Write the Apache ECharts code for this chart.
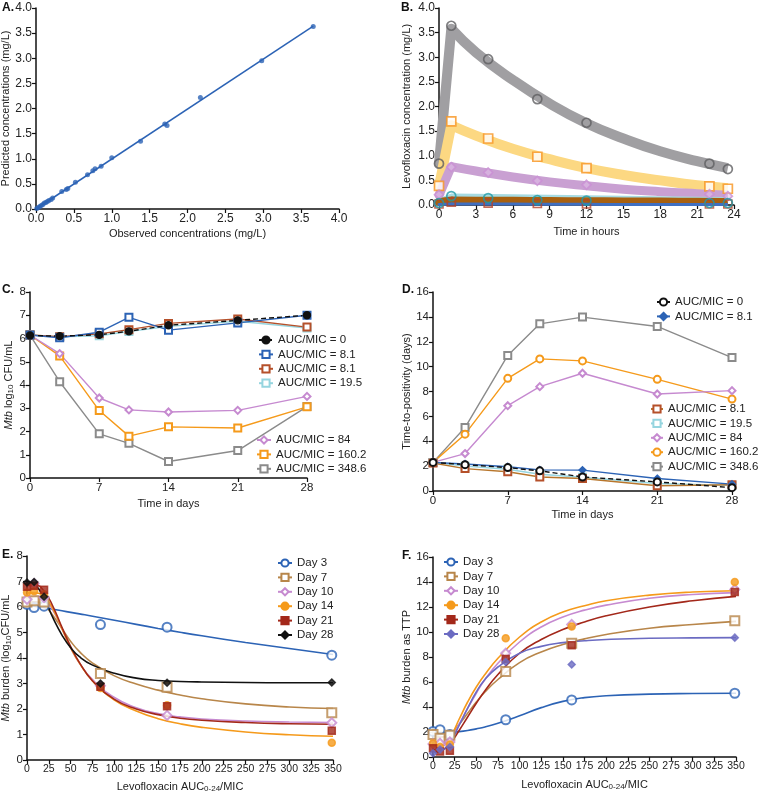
<!DOCTYPE html>
<html>
<head>
<meta charset="utf-8">
<script src="https://cdn.jsdelivr.net/npm/echarts@6/dist/echarts.min.js"></script>
<style>
  html, body { margin: 0; padding: 0; background: #fff; }
  #chart { width: 759px; height: 795px; }
</style>
</head>
<body>
<div id="chart"></div>
<script>
// ---- A: observed vs predicted
const obsA = [0.01, 0.03, 0.05, 0.07, 0.09, 0.11, 0.13, 0.15, 0.17, 0.2, 0.22, 0.34, 0.4, 0.42, 0.52, 0.68, 0.75, 0.78, 0.86, 1.0, 1.38, 1.7, 1.73, 2.17, 2.98, 3.66]
const predA = [0.01, 0.03, 0.05, 0.07, 0.09, 0.12, 0.13, 0.15, 0.17, 0.19, 0.22, 0.35, 0.39, 0.41, 0.53, 0.68, 0.76, 0.8, 0.85, 1.02, 1.35, 1.69, 1.66, 2.22, 2.95, 3.63]
const fitObsA = [0, 3.66]
const fitPredA = [0, 3.64]

// ---- B: concentration-time profiles
const hoursB = [0, 1, 4, 8, 12, 22, 23.5]
const obsGrayB = [0.84, 3.64, 2.96, 2.15, 1.67, 0.84, 0.73]
const obsOrangeB = [0.39, 1.7, 1.35, 0.98, 0.75, 0.38, 0.33]
const obsPurpleB = [0.21, 0.77, 0.66, 0.49, 0.41, 0.22, 0.18]
const obsTealB = [0.04, 0.18, 0.14, 0.1, 0.09, 0.04, 0.04]
const obsBrownB = [0.02, 0.06, 0.04, 0.03, 0.02, 0.02, 0.02]
// model curves: first two points are the infusion rise, the rest the decay
const curveHoursB = [0, 1, 3, 6, 9, 12, 15, 18, 21, 23.5]
const fitGrayB = [0.85, 3.58, 3.1, 2.54, 2.06, 1.66, 1.35, 1.09, 0.89, 0.75]
const fitYellowB = [0.38, 1.62, 1.41, 1.14, 0.93, 0.75, 0.61, 0.5, 0.4, 0.34]
const fitPurpleB = [0.2, 0.78, 0.69, 0.57, 0.47, 0.39, 0.32, 0.27, 0.23, 0.2]
const fitCyanB = [0.05, 0.15, 0.145, 0.135, 0.125, 0.115, 0.105, 0.095, 0.085, 0.08]
const fitBrownB = [0.06, 0.09, 0.088, 0.085, 0.08, 0.077, 0.073, 0.07, 0.066, 0.063]
const fitBlueB = [0.01, 0.02, 0.02, 0.02, 0.015, 0.013, 0.012, 0.011, 0.01, 0.01]

// ---- C / D: time-kill and TTP
const daysCD = [0, 3, 7, 10, 14, 21, 28]
const cfu0 = [6.13, 6.1, 6.16, 6.31, 6.57, 6.78, 7.0]
const cfu8a = [6.15, 6.03, 6.27, 6.91, 6.36, 6.67, 7.0]
const cfu8b = [6.15, 6.08, 6.2, 6.38, 6.65, 6.84, 6.49]
const cfu19 = [6.15, 6.07, 6.12, 6.3, 6.52, 6.74, 6.45]
const cfu84 = [6.15, 5.35, 3.44, 2.93, 2.84, 2.91, 3.51]
const cfu160 = [6.15, 5.25, 2.9, 1.8, 2.2, 2.15, 3.06]
const cfu348 = [6.15, 4.14, 1.9, 1.49, 0.71, 1.18, 3.07]

const ttp0 = [2.3, 2.12, 1.88, 1.62, 1.13, 0.73, 0.27]
const ttp8a = [2.3, 2.17, 1.95, 1.7, 1.68, 1.0, 0.55]
const ttp8b = [2.25, 1.8, 1.55, 1.13, 1.0, 0.42, 0.5]
const ttp19 = [2.3, 2.0, 1.75, 1.35, 1.1, 0.6, 0.45]
const ttp84 = [2.3, 3.01, 6.86, 8.39, 9.47, 7.8, 8.07]
const ttp160 = [2.3, 4.57, 9.06, 10.62, 10.46, 8.98, 7.39]
const ttp348 = [2.3, 5.1, 10.9, 13.44, 13.98, 13.23, 10.73]

// ---- E / F: exposure-response by day
const aucEF = [0, 8.1, 19.5, 84, 160.2, 348.6]
const curveAuc = [0, 10, 20, 30, 40, 50, 60, 75, 100, 125, 150, 175, 200, 250, 300, 350]

const cfuDay3 = [6.1, 5.98, 6.03, 5.31, 5.21, 4.11]
const cfuDay7 = [6.2, 6.25, 6.2, 3.39, 2.85, 1.85]
const cfuDay10 = [6.3, 6.92, 6.37, 2.91, 1.75, 1.46]
const cfuDay14 = [6.57, 6.62, 6.5, 2.82, 2.15, 0.68]
const cfuDay21 = [6.79, 6.83, 6.68, 2.87, 2.11, 1.15]
const cfuDay28 = [6.96, 6.98, 6.4, 3.0, 3.03, 3.04]
const cfuFit3 = [6.07, 6.02, 5.97, 5.91, 5.85, 5.79, 5.73, 5.64, 5.48, 5.32, 5.16, 5.01, 4.87, 4.61, 4.37, 4.14]
const cfuFit7 = [6.2, 6.2, 6.05, 5.65, 5.15, 4.65, 4.25, 3.8, 3.3, 2.98, 2.74, 2.55, 2.4, 2.2, 2.08, 2.02]
const cfuFit10 = [6.3, 6.42, 6.3, 5.85, 5.15, 4.4, 3.8, 3.15, 2.45, 2.05, 1.82, 1.69, 1.61, 1.53, 1.49, 1.47]
const cfuFit14 = [6.55, 6.55, 6.4, 5.9, 5.15, 4.4, 3.8, 3.1, 2.35, 1.92, 1.62, 1.42, 1.28, 1.1, 0.99, 0.93]
const cfuFit21 = [6.85, 6.85, 6.6, 6.0, 5.2, 4.45, 3.82, 3.1, 2.38, 2.0, 1.78, 1.64, 1.56, 1.47, 1.42, 1.4]
const cfuFit28 = [7.0, 6.85, 6.3, 5.55, 4.9, 4.4, 4.05, 3.72, 3.4, 3.21, 3.12, 3.08, 3.06, 3.04, 3.03, 3.03]

const ttpDay3 = [2.05, 2.18, 1.8, 2.98, 4.57, 5.1]
const ttpDay7 = [1.8, 1.5, 1.75, 6.84, 9.1, 10.9]
const ttpDay10 = [1.05, 1.1, 1.2, 8.3, 10.6, 13.4]
const ttpDay14 = [1.1, 0.8, 1.0, 9.5, 10.45, 14.0]
const ttpDay21 = [0.7, 0.45, 0.5, 7.85, 8.95, 13.2]
const ttpDay28 = [0.3, 0.6, 0.8, 7.6, 7.4, 9.55]
const ttpFit3 = [1.95, 1.96, 1.98, 2.03, 2.12, 2.25, 2.4, 2.7, 3.3, 3.95, 4.45, 4.75, 4.9, 5.03, 5.08, 5.1]
const ttpFit7 = [1.6, 1.6, 1.85, 2.6, 3.5, 4.4, 5.2, 6.2, 7.55, 8.4, 9.0, 9.45, 9.8, 10.3, 10.6, 10.85]
const ttpFit10 = [0.9, 0.9, 1.4, 2.6, 3.9, 5.1, 6.2, 7.5, 9.2, 10.4, 11.2, 11.75, 12.15, 12.7, 13.0, 13.15]
const ttpFit14 = [0.9, 1.0, 1.6, 3.0, 4.4, 5.6, 6.6, 7.9, 9.6, 10.8, 11.6, 12.1, 12.5, 12.95, 13.2, 13.3]
const ttpFit21 = [0.6, 0.6, 1.1, 2.1, 3.2, 4.3, 5.3, 6.6, 8.3, 9.4, 10.2, 10.8, 11.3, 12.0, 12.5, 12.85]
const ttpFit28 = [0.35, 0.5, 1.2, 2.5, 3.9, 5.2, 6.2, 7.2, 8.3, 8.85, 9.15, 9.3, 9.4, 9.5, 9.53, 9.55]

const font = '"Liberation Sans", Arial, sans-serif'
const BLUE = '#2c63b5'
const BROWN = '#b5502a'
const CYAN = '#96d5df'
const PURPLE = '#c68ad0'
const ORANGE = '#f59a1b'
const GRAY = '#8b8b8b'
const TAN = '#b8864a'
const DARKRED = '#a3281a'
const SLATE = '#6b6bc2'

const pair = (xs, ys) => xs.map((x, i) => [x, ys[i]])

const chart = echarts.init(document.getElementById('chart'))

const grids = [
  { left: 36, top: 8, width: 303, height: 201 },
  { left: 439, top: 8, width: 295, height: 197 },
  { left: 30, top: 292, width: 277, height: 186 },
  { left: 433, top: 292, width: 299, height: 199 },
  { left: 27, top: 556, width: 306, height: 204 },
  { left: 433, top: 557, width: 303, height: 200 }
].map(g => ({ ...g, outerBoundsMode: 'none', containLabel: false }))

const makeAxis = (gridIndex, min, max, interval, name, nameGap, opts = {}) => ({
  type: 'value',
  gridIndex,
  min,
  max,
  interval,
  name,
  nameGap,
  nameLocation: 'middle',
  axisLine: { show: true, onZero: false, lineStyle: { color: '#111', width: 1.5 } },
  axisTick: { show: true, length: 4, lineStyle: { color: '#111', width: 1.2 } },
  splitLine: { show: false },
  axisLabel: {
    color: '#222',
    fontSize: opts.labelSize || 11.5,
    fontFamily: font,
    margin: 4,
    formatter: opts.fmt
  },
  nameTextStyle: {
    color: '#222',
    fontSize: 11,
    fontFamily: font,
    rich: {
      i: { fontStyle: 'italic', fontSize: 11, fontFamily: font, color: '#222' },
      s: { fontSize: 8, fontFamily: font, color: '#222', padding: [5, 0, 0, 0] }
    }
  }
})

const fix1 = v => v.toFixed(1)

const xAxes = [
  makeAxis(0, 0, 4, 0.5, 'Observed concentrations (mg/L)', 19, { fmt: fix1, labelSize: 12 }),
  makeAxis(1, 0, 24, 3, 'Time in hours', 21, { labelSize: 12 }),
  makeAxis(2, 0, 28, 7, 'Time in days', 20),
  makeAxis(3, 0, 28, 7, 'Time in days', 18),
  makeAxis(4, 0, 350, 25, 'Levofloxacin AUC{s|0-24}/MIC', 20, { labelSize: 10.5 }),
  makeAxis(5, 0, 350, 25, 'Levofloxacin AUC{s|0-24}/MIC', 21, { labelSize: 10.5 })
]
const yAxes = [
  makeAxis(0, 0, 4, 0.5, 'Predicted concentrations (mg/L)', 19, { fmt: fix1, labelSize: 12 }),
  makeAxis(1, 0, 4, 0.5, 'Levofloxacin concentration (mg/L)', 27, { fmt: fix1, labelSize: 12 }),
  makeAxis(2, 0, 8, 1, '{i|Mtb} log{s|10} CFU/mL', 15),
  makeAxis(3, 0, 16, 2, 'Time-to-positivity (days)', 20),
  makeAxis(4, 0, 8, 1, '{i|Mtb} burden (log{s|10}CFU/mL', 13),
  makeAxis(5, 0, 16, 2, '{i|Mtb} burden as TTP', 19)
]

// ---- series
const series = []

// A
series.push({
  type: 'line', xAxisIndex: 0, yAxisIndex: 0, data: pair(fitObsA, fitPredA),
  showSymbol: false, lineStyle: { color: BLUE, width: 1.5 }
})
series.push({
  type: 'scatter', xAxisIndex: 0, yAxisIndex: 0, data: pair(obsA, predA),
  symbolSize: 5, z: 4, itemStyle: { color: BLUE }
})

// B bands: straight rise to the peak, then a smooth decay
const band = (ys, color, width) => {
  const pts = pair(curveHoursB, ys)
  return [
    {
      type: 'line', xAxisIndex: 1, yAxisIndex: 1, data: pts.slice(0, 2),
      showSymbol: false, clip: false, z: 2,
      lineStyle: { color, width, cap: 'round' }
    },
    {
      type: 'line', xAxisIndex: 1, yAxisIndex: 1, data: pts.slice(1),
      smooth: 0.5, showSymbol: false, clip: false, z: 2,
      lineStyle: { color, width, join: 'round' }
    }
  ]
}
series.push(...band(fitGrayB, '#a09fa2', 10))
series.push(...band(fitYellowB, '#fcd882', 10))
series.push(...band(fitPurpleB, '#c9a0d2', 9))
series.push(...band(fitCyanB, '#a6dbe2', 8))
series.push(...band(fitBrownB, '#a8600f', 8))
series.push(...band(fitBlueB, '#3f6fc1', 3))

const marksB = (ys, symbol, stroke, fill, size) => ({
  type: 'scatter', xAxisIndex: 1, yAxisIndex: 1, data: pair(hoursB, ys),
  symbol, symbolSize: size, clip: false, z: 6,
  itemStyle: { color: fill, borderColor: stroke, borderWidth: 1.7 }
})
series.push(marksB(obsGrayB, 'circle', '#5f5f62', 'rgba(0,0,0,0)', 9))
series.push(marksB(obsOrangeB, 'rect', '#f7931e', '#fff', 9))
series.push(marksB(obsPurpleB, 'diamond', '#c98fd3', 'rgba(225,190,232,0.7)', 9))
series.push(marksB(obsBrownB, 'rect', '#b3442a', 'rgba(0,0,0,0)', 8))
series.push(marksB(obsTealB, 'circle', '#1f9aa6', 'rgba(0,0,0,0)', 9))

// C and D
const kineticLine = (grid, name, ys, color, symbol, dashed, markColor) => ({
  type: 'line', name, xAxisIndex: grid, yAxisIndex: grid, data: pair(daysCD, ys),
  symbol, symbolSize: 7,
  lineStyle: { color, width: 1.4, type: dashed ? [5, 3] : 'solid' },
  itemStyle: { color: markColor || color, borderColor: markColor || color, borderWidth: 1.3 }
})
series.push(kineticLine(2, 'C|AUC/MIC = 348.6', cfu348, GRAY, 'emptyRect'))
series.push(kineticLine(2, 'C|AUC/MIC = 160.2', cfu160, ORANGE, 'emptyRect'))
series.push(kineticLine(2, 'C|AUC/MIC = 84', cfu84, PURPLE, 'emptyDiamond'))
series.push(kineticLine(2, 'C|AUC/MIC = 19.5', cfu19, CYAN, 'emptyRect'))
series.push(kineticLine(2, 'C|AUC/MIC = 8.1|b', cfu8b, BROWN, 'emptyRect'))
series.push(kineticLine(2, 'C|AUC/MIC = 8.1|a', cfu8a, BLUE, 'emptyRect'))
series.push(kineticLine(2, 'C|AUC/MIC = 0', cfu0, '#111', 'circle', true))

series.push(kineticLine(3, 'D|AUC/MIC = 348.6', ttp348, GRAY, 'emptyRect'))
series.push(kineticLine(3, 'D|AUC/MIC = 160.2', ttp160, ORANGE, 'emptyCircle'))
series.push(kineticLine(3, 'D|AUC/MIC = 84', ttp84, PURPLE, 'emptyDiamond'))
series.push(kineticLine(3, 'D|AUC/MIC = 19.5', ttp19, CYAN, 'emptyRect'))
series.push(kineticLine(3, 'D|AUC/MIC = 8.1|b', ttp8b, '#b8762c', 'emptyRect', false, BROWN))
series.push(kineticLine(3, 'D|AUC/MIC = 8.1|a', ttp8a, BLUE, 'diamond'))
series.push(kineticLine(3, 'D|AUC/MIC = 0', ttp0, '#111', 'emptyCircle', true))

// E and F
const doseCurve = (grid, name, ys, color, symbol) => ({
  type: 'line', name, xAxisIndex: grid, yAxisIndex: grid, data: pair(curveAuc, ys),
  smooth: 0.5, showSymbol: false, symbol, symbolSize: 7,
  lineStyle: { color, width: 1.6 },
  itemStyle: { color, borderColor: color, borderWidth: 1.3 }
})
const dosePoints = (grid, name, ys, color, symbol, size) => ({
  type: 'scatter', name, xAxisIndex: grid, yAxisIndex: grid, data: pair(aucEF, ys),
  symbol, symbolSize: size, clip: false, z: 4,
  itemStyle: { color, borderColor: color, borderWidth: 1.5 }
})
const daySpecs = [
  ['Day 3', 'emptyCircle', BLUE, 9],
  ['Day 7', 'emptyRect', TAN, 9],
  ['Day 10', 'emptyDiamond', PURPLE, 9],
  ['Day 14', 'circle', ORANGE, 7],
  ['Day 21', 'rect', DARKRED, 7]
]
const cfuFits = [cfuFit3, cfuFit7, cfuFit10, cfuFit14, cfuFit21, cfuFit28]
const cfuPts = [cfuDay3, cfuDay7, cfuDay10, cfuDay14, cfuDay21, cfuDay28]
const ttpFits = [ttpFit3, ttpFit7, ttpFit10, ttpFit14, ttpFit21, ttpFit28]
const ttpPts = [ttpDay3, ttpDay7, ttpDay10, ttpDay14, ttpDay21, ttpDay28]

const specsE = [...daySpecs, ['Day 28', 'diamond', '#111', 7]]
const specsF = [...daySpecs, ['Day 28', 'diamond', SLATE, 7]]
specsE.forEach(([label, sym, color, size], i) => {
  series.push(doseCurve(4, 'E|' + label, cfuFits[i], color, sym))
  series.push(dosePoints(4, 'E|' + label + '|pts', cfuPts[i], color, sym, size))
})
specsF.forEach(([label, sym, color, size], i) => {
  series.push(doseCurve(5, 'F|' + label, ttpFits[i], color, sym))
  series.push(dosePoints(5, 'F|' + label + '|pts', ttpPts[i], color, sym, size))
})

// ---- legends
const legendBase = {
  orient: 'vertical',
  itemWidth: 14,
  itemHeight: 9,
  itemGap: 2.4,
  padding: 0,
  selectedMode: false,
  textStyle: { fontSize: 11.5, fontFamily: font, color: '#222', lineHeight: 12 },
  formatter: n => n.split('|')[1]
}
const legends = [
  { ...legendBase, left: 258, top: 334, data: ['C|AUC/MIC = 0', 'C|AUC/MIC = 8.1|a', 'C|AUC/MIC = 8.1|b', 'C|AUC/MIC = 19.5'] },
  { ...legendBase, left: 256, top: 434, data: ['C|AUC/MIC = 84', 'C|AUC/MIC = 160.2', 'C|AUC/MIC = 348.6'] },
  { ...legendBase, left: 656, top: 296, itemWidth: 13, data: ['D|AUC/MIC = 0', 'D|AUC/MIC = 8.1|a'] },
  { ...legendBase, left: 650, top: 403, itemWidth: 12, data: ['D|AUC/MIC = 8.1|b', 'D|AUC/MIC = 19.5', 'D|AUC/MIC = 84', 'D|AUC/MIC = 160.2', 'D|AUC/MIC = 348.6'] },
  { ...legendBase, left: 277, top: 557, data: specsE.map(s => 'E|' + s[0]) },
  { ...legendBase, left: 443, top: 556, data: specsF.map(s => 'F|' + s[0]) }
]

const panelLabel = (text, left, top) => ({
  text, left, top, padding: 0,
  textStyle: { fontSize: 12, fontWeight: 'bold', fontFamily: font, color: '#111' }
})

chart.setOption({
  animation: false,
  backgroundColor: '#fff',
  title: [
    panelLabel('A.', 2, 2),
    panelLabel('B.', 401, 2),
    panelLabel('C.', 2, 284),
    panelLabel('D.', 402, 284),
    panelLabel('E.', 2, 549),
    panelLabel('F.', 402, 550)
  ],
  grid: grids,
  xAxis: xAxes,
  yAxis: yAxes,
  legend: legends,
  series
})
</script>
</body>
</html>
